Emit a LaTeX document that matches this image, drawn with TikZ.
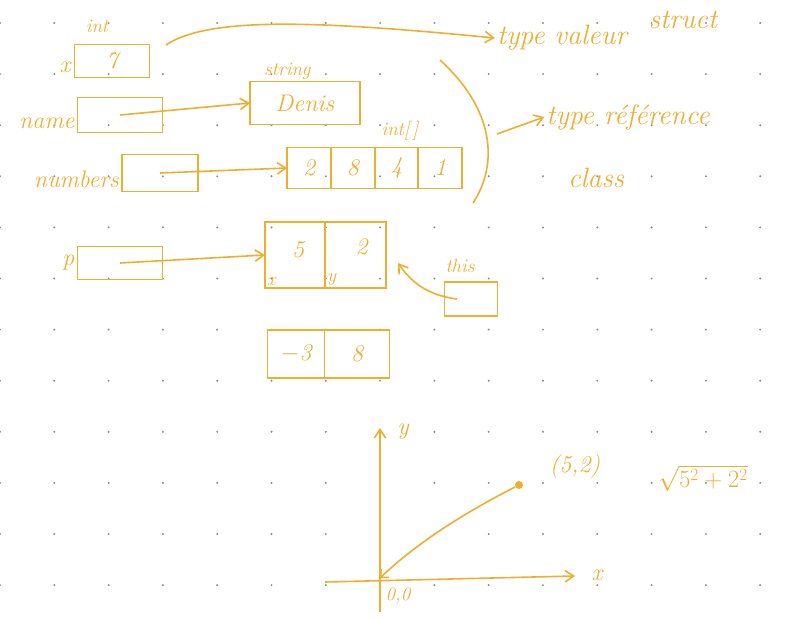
\documentclass[tikz,border=0pt]{standalone}
\usepackage{tikz}
\usetikzlibrary{arrows.meta,positioning}
\definecolor{ink}{HTML}{F0AE30}
\definecolor{grid}{HTML}{8C8C8C}

\begin{document}
\begin{tikzpicture}[x=1pt, y=-1pt, every node/.style={text=ink, font=\itshape\fontsize{24}{24}\selectfont, inner sep=2pt}, box/.style={draw=ink, line width=1.8pt, inner sep=0pt, outer sep=0pt}, arr/.style={-{Straight Barb[length=3mm, width=4mm]}, line width=1.6pt, draw=ink}, pen/.style={line width=1.6pt, draw=ink}, small/.style={font=\itshape\fontsize{19}{19}\selectfont}, big/.style={font=\itshape\fontsize{28}{28}\selectfont}]
\useasboundingbox (0,0) rectangle (800,619);
\fill[white] (0,0) rectangle (800,619);
% dotted paper
\foreach \i in {0,...,14} \foreach \j in {0,...,11} \fill[grid] (54.3*\i, 23+51.1*\j) circle (1.1pt);
% value types: x, and the two kinds of types on the right
\node[box, minimum width=75, minimum height=33] (x) at (112,61) {7};
\node[left=2pt of x, yshift=-6] (xname) {x};
\node[small] (xtype) at (97,26) {int};
\node[big] (valeur) at (562,38) {type valeur};
\node[big] (struct) at (683,20) {struct};
\coordinate (xout) at (166,45);
\draw[arr] (xout) .. controls (210,15) and (330,22) .. (valeur.west);
% reference types: name -> string, numbers -> int[]
\node[box, minimum width=85, minimum height=35] (name) at (120,115) {};
\node[left=1pt of name, yshift=-8] (namelbl) {name};
\node[box, minimum width=110, minimum height=43] (denis) at (305,103) {Denis};
\node[small, above=0pt of denis.north west, anchor=south west, xshift=12] (stype) {string};
\draw[arr] (name.center) -- (denis.west);
\node[box, minimum width=76, minimum height=37] (numbers) at (160,173) {};
\node[left=1pt of numbers, yshift=-6] (numlbl) {numbers};
\node[box, minimum width=43.75, minimum height=41] (a1) at (309,168) {2};
\node[box, minimum width=43.75, minimum height=41, right=0pt of a1] (a2) {8};
\node[box, minimum width=43.75, minimum height=41, right=0pt of a2] (a3) {4};
\node[box, minimum width=43.75, minimum height=41, right=0pt of a3] (a4) {1};
\node[small] (atype) at (400,131) {int[\,]};
\draw[arr] (numbers.center) -- (a1.west);
\draw[pen] (440,60) .. controls (500,115) and (495,170) .. (473,203);
\coordinate (brace) at (497,134);
\node[big] (typeref) at (628,117) {type r\'ef\'erence};
\node[big] (class) at (596,178) {class};
\draw[arr] (brace) -- (typeref.west);
% p points to the struct on the heap, this points to it too
\node[box, minimum width=85, minimum height=33] (p) at (120,263) {};
\node[left=1pt of p] (plbl) {p};
\node[box, minimum width=60, minimum height=66] (px) at (295,255) {};
\node[box, minimum width=61, minimum height=66, right=0pt of px] (py) {};
\node[small, anchor=south west] (pxlbl) at (px.south west) {x};
\node (pxval) at ([yshift=5,xshift=3]px.center) {5};
\node[small, anchor=south west] (pylbl) at (py.south west) {y};
\node (pyval) at ([yshift=8,xshift=6]py.center) {2};
\draw[arr] (p.center) -- (px.west);
\node[box, minimum width=53, minimum height=34] (this) at (471,299) {};
\node[small] (thislbl) at (460,266) {this};
\draw[arr] ([xshift=-14]this.center) .. controls (425,295) and (410,280) .. ([shift={(12,8)}]py.east);
\node[box, minimum width=57, minimum height=48] (m1) at (296,354) {$-$3};
\node[box, minimum width=65, minimum height=48, right=0pt of m1] (m2) {8};
% plane with the point (5,2)
\coordinate (o) at (380,578);
\coordinate (xstart) at (325,582);
\coordinate (xend) at (575,576);
\coordinate (ystart) at (380,612);
\coordinate (yend) at (380,428);
\node (xaxis) at (597,575) {x};
\node (yaxis) at (403,432) {y};
\node[small] (olbl) at (398,596) {0,0};
\draw[arr] (xstart) -- (xend);
\draw[arr] (ystart) -- (yend);
\node[circle, fill=ink, inner sep=0pt, minimum size=8] (pt) at (519,485) {};
\draw[pen, {Straight Barb[length=2mm]}-] (o) .. controls (420,540) and (470,510) .. (pt);
\node (ptlbl) at (575,467) {(5,2)};
\node[font=\fontsize{26}{26}\selectfont] (norm) at (703,478) {$\sqrt{5^2+2^2}$};
\end{tikzpicture}
\end{document}
